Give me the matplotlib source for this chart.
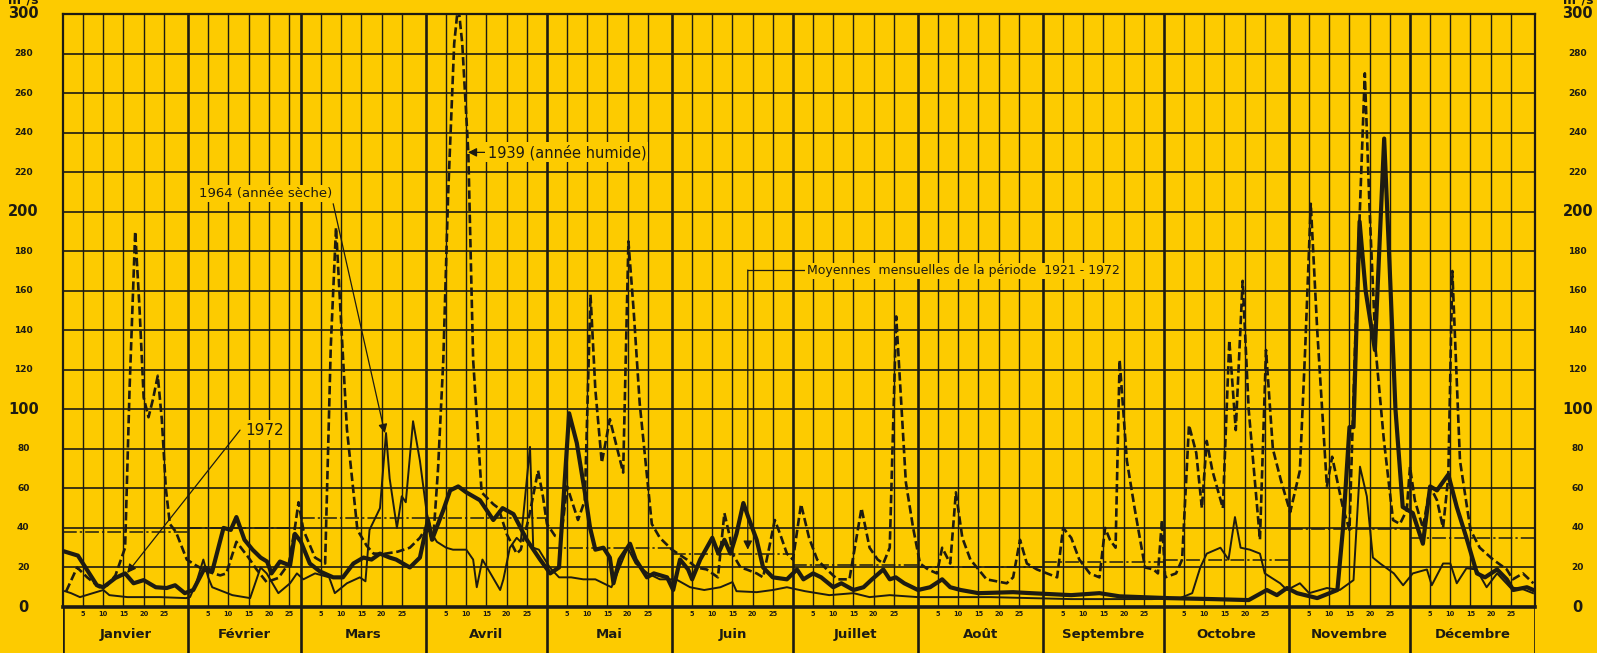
import numpy as np
import matplotlib
matplotlib.use("Agg")
import matplotlib.pyplot as plt

BG = "#FDCB00"
INK = "#1d1b12"

months = ["Janvier", "Février", "Mars", "Avril", "Mai", "Juin", "Juillet",
          "Août", "Septembre", "Octobre", "Novembre", "Décembre"]
month_days = [31, 28, 31, 30, 31, 30, 31, 31, 30, 31, 30, 31]
day_ticks = [5, 10, 15, 20, 25]
y_ticks = list(range(0, 301, 20))

# monthly means 1921-1972 (m3/s)
mean_1921_1972 = [38, 40, 45, 45, 30, 27, 21, 20, 23, 24, 39.5, 35]

# 1939 (wet year) - day of year / discharge
t_1939 = [0.8, 3.5, 6, 9, 11, 13, 15.4, 16.5, 17.9, 19, 20, 21.2, 22.3, 23.5, 24.5, 25.5, 26.5, 28, 30.7,
          33, 35.7, 39, 40.5, 43, 46, 48, 50.5, 53.4, 56, 57.5, 58.4, 59.6, 62.5, 65, 66.4, 67.7, 68.8,
          70.4, 73, 75.3, 77, 80, 83, 86, 88.5, 90, 91.8, 93, 94.3, 95.5, 97, 98, 99, 100.5, 101.7,
          103.8, 106.7, 108, 110, 112.5, 113.5, 115.5, 117.8, 119, 120, 122, 123.5, 125, 127.7, 129.4,
          130.8, 132, 133.6, 135.6, 138.9, 140.2, 141.5, 143, 146, 148, 151, 154.7, 157, 159.6, 162.4,
          164, 165.4, 166, 168, 169.5, 172, 173.6, 176.5, 177.8, 179.5, 181, 183, 185, 187, 189.4, 192,
          195, 198, 200, 202, 203.4, 205, 206.6, 209, 210.8, 212.5, 214.5, 216.7, 218, 220, 221.4, 223,
          225, 229, 234, 235.6, 237.3, 239, 241.5, 244, 246.5, 248, 250, 252, 254.6, 257, 258.4, 259.6,
          261, 262, 263.8, 265.8, 268.3, 270.4, 271.5, 272.5, 273.3, 276, 277.5, 279.2, 281, 282.4,
          283.6, 285, 287.6, 289.2, 290.8, 292.5, 294, 296.8, 298.3, 300, 302, 304.3, 306.7, 308, 309.4,
          311, 313.4, 314.7, 317.4, 319, 320.5, 322.8, 324, 325.5, 327.5, 329.8, 331.5, 333.2, 334,
          335.2, 337.2, 339, 340.7, 342.2, 343.5, 344.5, 345.5, 346.4, 349, 351.3, 354.6, 358, 359.5,
          362, 364.6]
q_1939 = [8, 20, 15, 10, 11, 16, 30, 110, 190, 150, 106, 96, 105, 117, 95, 60, 42, 38, 24,
          21, 18, 16, 17, 33, 25, 19, 12.6, 14.7, 22, 40, 53, 39, 25, 22, 132, 192, 150,
          90, 39, 31, 27, 27, 28, 30, 35, 40, 34, 70, 125, 209, 285, 305, 285, 230, 125,
          58, 52, 50, 37, 27, 29, 45, 69, 56, 42, 36, 35, 61, 44, 54,
          158, 110, 73, 95, 68, 185, 150, 103, 42, 35, 29, 24, 20, 19, 15,
          47.5, 35, 27, 20, 19, 17, 15, 44, 37, 27, 24, 52, 35, 24, 19, 14,
          14, 50, 30, 24, 22, 30, 147, 63, 40, 22, 19, 17, 30, 22, 58, 35,
          24, 14, 12, 15, 34, 22, 19, 17, 15, 40, 35, 24, 17, 15, 40, 34,
          30, 125, 74, 49, 20, 19, 17, 44, 15, 17, 24, 92, 78, 50,
          84, 69, 50, 135, 89.5, 165, 100, 34, 130, 80, 64, 48, 69, 130, 204,
          140, 61, 76, 50, 39, 140, 270, 200, 130, 85, 44, 42, 49, 71,
          54, 40, 61, 54, 40, 66, 170, 120, 74, 39, 30, 24, 19, 14,
          17, 12]

# 1964 (dry year)
t_1964 = [0.5, 2, 4.2, 7.4, 10, 11.5, 16, 24, 30.5, 31.5, 33, 34.8, 36, 37, 42, 46.4, 49, 50.5, 53.4,
          56.3, 58, 59.6, 62.5, 66, 67.4, 70.4, 73.6, 75, 76, 78.6, 80.1, 81, 82.8, 84, 85, 86.8, 88.5,
          90.2, 91.5, 92.7, 95, 96.7, 100, 101.7, 102.6, 104, 106, 108.4, 109.2, 110.8, 112.5, 113.5,
          115.8, 116.6, 118, 120.7, 123, 126, 129, 132, 134, 136, 138, 140, 142, 145, 148, 151, 152,
          155.5, 159, 163, 166, 167, 172, 176, 179.5, 184, 190, 196, 200, 205, 212, 220, 230, 240, 250,
          260, 270, 277, 280, 282, 283.6, 287, 289, 290.6, 292, 294.3, 296.8, 298, 299.5, 301.8, 303.5,
          306.7, 309, 313.4, 316.6, 320, 321.6, 323.3, 324.8, 326.6, 330, 332.3, 334.7, 338.2, 339.4,
          342.2, 344, 345.6, 348, 350.5, 353, 355.6, 358.8, 362, 364.5]
q_1964 = [8, 7, 5, 7, 8.6, 6, 5, 5, 4.5, 5, 12, 24, 15, 10, 6, 4.5, 20, 17, 7,
          12, 17, 14, 17, 15, 7, 12, 15, 13, 39, 50, 88, 65, 40, 56, 53, 94, 74,
          47.5, 37, 33, 30, 29, 29, 24, 10, 24, 17, 8.6, 14, 30, 35, 33,
          81, 30, 29, 20, 15, 15, 14, 14, 12, 10, 20, 30, 22, 17, 14, 14, 14,
          10, 8.6, 10, 12.6, 8, 7.5, 8.6, 10, 8, 6, 7, 5, 6, 5, 5, 5, 4.5, 4,
          4, 4, 4.5, 7, 20, 27, 30, 24, 45.5, 30, 29, 27, 17, 15, 12, 8.6,
          12, 7, 9.6, 8.6, 13.6, 71, 56, 25, 22, 17, 11, 17, 19, 11,
          22, 22, 12, 19.6, 19, 10, 17, 10, 9, 7]

# 1972
t_1972 = [0.5, 3.7, 5.9, 8.4, 10, 13, 15.4, 17.5, 20, 23, 25.7, 27.8, 30.2, 32.3, 35.2, 37, 39.8, 41.6,
          43, 45, 47, 49, 50.6, 51.7, 53.8, 56.3, 57.5, 59, 61.2, 63.7, 67, 69.4, 72, 74.5, 76.5, 78.6,
          81, 82.6, 86, 88.5, 90.5, 91.5, 94.3, 96, 98, 100, 103.4, 106.7, 109, 111.7, 115, 118.3, 120.8,
          123, 125.5, 127.4, 129.4, 130.7, 132, 134, 135.6, 136.5, 138, 140.6, 142, 144.8, 146.5, 149.8,
          151.3, 153, 155, 156, 158, 161, 162.5, 164, 165.5, 167, 168.7, 170, 172, 173.6, 176, 179.5,
          182, 183.6, 186, 188, 191, 193, 196, 198.5, 200.6, 203.4, 205, 206.5, 208.6, 212, 215, 218,
          220, 222.6, 227, 235.6, 240, 250, 257, 262, 274, 285, 294, 298.5, 301, 303.5, 306, 311, 316,
          317.4, 319, 320, 321.5, 323, 325.3, 327.6, 329, 330.4, 332.2, 334.7, 337.2, 339, 340.7,
          343.5, 345.6, 348, 350.6, 352.6, 355.6, 358, 359.6, 363, 364.6]
q_1972 = [28, 26, 19, 11, 10, 14.7, 17, 12, 13.6, 10, 9.6, 11, 7, 8.6, 20, 18, 40, 39,
          45.5, 34, 29, 25, 23, 17, 23, 21, 37, 33, 22, 18, 15, 15, 22, 25, 24, 27,
          25, 24, 20, 25, 44, 34, 49, 59, 61, 58, 54, 44, 50, 47, 34, 24, 17,
          20, 98, 83, 58, 40, 29, 30, 25, 12, 24, 32, 24, 15, 17, 15,
          8.6, 24, 19, 14, 24, 35, 27, 34, 27, 37, 52.6, 45, 34, 20, 15, 14,
          19, 14, 17, 15, 10, 12, 8.6, 10, 14, 19, 14, 15, 12, 8.6, 10, 14,
          10, 8.6, 7, 7.5, 7, 6, 7, 5.4, 4.5, 4, 3.5, 8.6, 6, 9.6, 7, 4.5, 8.6,
          40, 91, 91, 195, 160, 130, 237, 170, 100, 50.6, 47.5, 32, 61, 59,
          67, 50.6, 35, 17, 15, 19, 14, 8.6, 10, 8.6]

W, H = 1597, 653
fig = plt.figure(figsize=(W / 100, H / 100), dpi=100, facecolor=BG)
L, R, B, T = 63, 1535, 46, 639
ax = fig.add_axes([L / W, B / H, (R - L) / W, (T - B) / H])
ax.set_facecolor(BG)
ax.set_xlim(0, 365)
ax.set_ylim(0, 300)

starts = np.cumsum([0] + month_days)

# grid
for v in y_ticks:
    ax.axhline(v, color=INK, lw=1.2, zorder=1)
for s in starts[:-1]:
    for d in day_ticks:
        ax.axvline(s + d, color=INK, lw=1.0, zorder=1)
for s in starts[1:-1]:
    ax.axvline(s, color=INK, lw=1.9, zorder=1)

ax.set_xticks([])
ax.set_yticks([])
for sp in ax.spines.values():
    sp.set_color(INK)
    sp.set_linewidth(1.6)
ax.spines["bottom"].set_linewidth(2.6)

# monthly means (dash-dot steps)
for s, e, m in zip(starts[:-1], starts[1:], mean_1921_1972):
    ax.plot([s, e], [m, m], color=INK, lw=1.1, dashes=(9, 2, 1.5, 2), zorder=2)

ax.plot(t_1964, q_1964, color=INK, lw=1.4, zorder=3)
ax.plot(t_1939, q_1939, color=INK, lw=1.9, dashes=(3.2, 1.4), zorder=4)
ax.plot(t_1972, q_1972, color=INK, lw=3.0, zorder=5, solid_joinstyle="round")

# y labels on both sides
ytr = ax.get_yaxis_transform()
for v in y_ticks:
    big = v % 100 == 0
    fs = 10.5 if big else 6.5
    for xpos in (-0.027, 1.029):
        ax.text(xpos, v, str(v), transform=ytr, ha="center", va="center",
                fontsize=fs, fontweight="bold", color=INK, clip_on=False)
# unit label, cut by the top edge as in the scan
for xpix in (23, 1578):
    fig.text(xpix / W, 1.0, "m³/s", ha="center", va="center",
             fontsize=9, fontweight="bold", color=INK)

# annotations
box = dict(boxstyle="square,pad=0.15", facecolor=BG, edgecolor="none")
arrow = dict(arrowstyle="-|>", color=INK, lw=0.9, mutation_scale=13, shrinkA=0, shrinkB=0)
ax.annotate("", xy=(15.9, 17.2), xytext=(43.9, 89.5), arrowprops=arrow, zorder=6)
ax.text(45.1, 89.5, "1972", ha="left", va="center", fontsize=11, color=INK, zorder=6, bbox=box)

ax.annotate("", xy=(79.8, 88), xytext=(67, 204), arrowprops=arrow, zorder=6)
ax.text(33.7, 209, "1964 (année sèche)", ha="left", va="center", fontsize=9.5, color=INK,
        zorder=6, bbox=box)

ax.annotate("", xy=(100.4, 230), xytext=(105.2, 230), arrowprops=arrow, zorder=6)
ax.text(105.3, 230, "1939 (année humide)", ha="left", va="center", fontsize=10.5, color=INK,
        zorder=6, bbox=box)

ax.plot([169.8, 184.2], [170.5, 170.5], color=INK, lw=0.9, zorder=6)
ax.annotate("", xy=(169.8, 29), xytext=(169.8, 170.5), arrowprops=arrow, zorder=6)
ax.text(184.5, 170, "Moyennes  mensuelles de la période  1921 - 1972", ha="left", va="center",
        fontsize=9, color=INK, zorder=6, bbox=box)

# month band
axb = fig.add_axes([L / W, 0, (R - L) / W, B / H])
axb.set_facecolor(BG)
axb.set_xlim(0, 365)
axb.set_ylim(0, 1)
axb.axis("off")
for s in starts:
    axb.axvline(s, color=INK, lw=1.9)
for s, e, name in zip(starts[:-1], starts[1:], months):
    for d in day_ticks:
        axb.text(s + d, 0.84, str(d), ha="center", va="center", fontsize=4.8,
                 fontweight="bold", color=INK)
    axb.text((s + e) / 2, 0.4, name, ha="center", va="center", fontsize=9.5,
             fontweight="bold", color=INK)

fig.savefig("out.png", dpi=100, facecolor=BG)
